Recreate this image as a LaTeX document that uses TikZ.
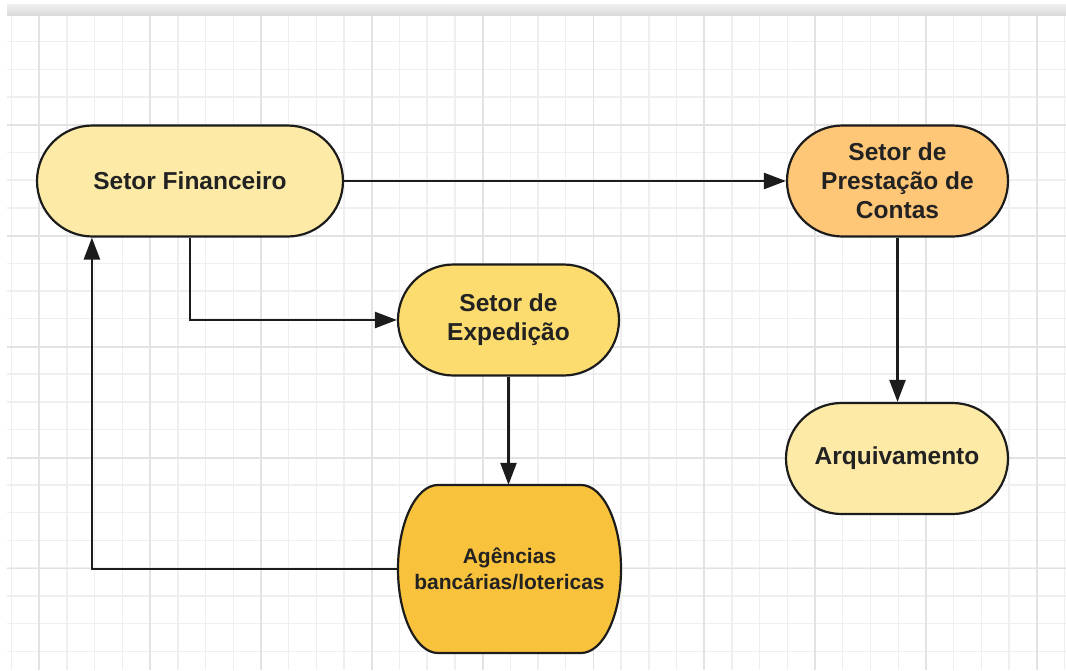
\documentclass[tikz,border=0pt]{standalone}
\usepackage{fontspec}
\setmainfont{Liberation Sans}
\usetikzlibrary{arrows.meta,calc}
\definecolor{gridminor}{HTML}{EFEFEF}
\definecolor{gridmajor}{HTML}{E3E3E3}
\definecolor{finfill}{HTML}{FDEAA7}
\definecolor{expfill}{HTML}{FCDB6F}
\definecolor{agfill}{HTML}{F9C23C}
\definecolor{prestfill}{HTML}{FEC677}
\definecolor{edge}{HTML}{1C1C1C}
\definecolor{txt}{HTML}{222222}
\tikzset{
  minorline/.style={draw=gridminor, line width=1.4pt},
  majorline/.style={draw=gridmajor, line width=1.8pt},
  stadium/.style={rectangle, rounded corners=55.5pt, draw=edge, line width=2.2pt,
    align=center, text=txt, font=\fontsize{24.5}{29}\selectfont\bfseries, inner sep=0pt},
  conn/.style={draw=edge, line width=2.5pt, -{Triangle[length=22pt,width=16pt]}}
}
\begin{document}
\begin{tikzpicture}[x=1pt,y=-1pt]
\useasboundingbox (0,0) rectangle (1066,670);
\fill[white] (0,0) rectangle (1066,670);
% grid
\foreach \i in {0,...,38} \draw[minorline] ({11.6+27.706*\i},15) -- ({11.6+27.706*\i},670);
\foreach \j in {0,...,22} \draw[minorline] (7,{41.5+27.72*\j}) -- (1066,{41.5+27.72*\j});
\foreach \i in {0,...,9} \draw[majorline] ({39.3+110.824*\i},15) -- ({39.3+110.824*\i},670);
\foreach \j in {0,...,4} \draw[majorline] (7,{125+110.88*\j}) -- (1066,{125+110.88*\j});
% top band
\shade[top color=gray!12, bottom color=gray!28] (7,4) rectangle (1066,15);
% nodes
\node[stadium, fill=finfill, minimum width=306pt, minimum height=111pt] (fin) at (190,181) {Setor Financeiro};
\node[stadium, fill=expfill, minimum width=221pt, minimum height=111pt] (exp) at (508.5,320) {Setor de\\Expedição};
\node[stadium, fill=prestfill, minimum width=221pt, minimum height=111pt] (prest) at (897.5,181) {Setor de\\Prestação de\\Contas};
\node[stadium, fill=finfill, minimum width=222pt, minimum height=111pt] (arq) at (897,458.5) {Arquivamento};
% agencias shape (elliptical ends)
\draw[draw=edge, fill=agfill, line width=2.2pt]
  (438,485) -- (581,485)
  arc[start angle=90, end angle=-90, x radius=40pt, y radius=84pt]
  -- (438,653)
  arc[start angle=270, end angle=90, x radius=40pt, y radius=84pt] -- cycle;
\node[rectangle, minimum width=223pt, minimum height=168pt, align=center, text=txt,
  font=\fontsize{21}{26}\selectfont\bfseries, inner sep=0pt] (ag) at (509.5,569) {Agências\\bancárias/lotericas};
% connectors
\draw[conn] (fin.east) -- (prest.west);
\draw[conn] (fin.south) |- (exp.west);
\draw[conn] (exp.south) -- (exp.south |- ag.north);
\draw[conn] (ag.west) -| ([xshift=56pt]fin.south west);
\draw[conn] (prest.south) -- (prest.south |- arq.north);
\end{tikzpicture}
\end{document}
